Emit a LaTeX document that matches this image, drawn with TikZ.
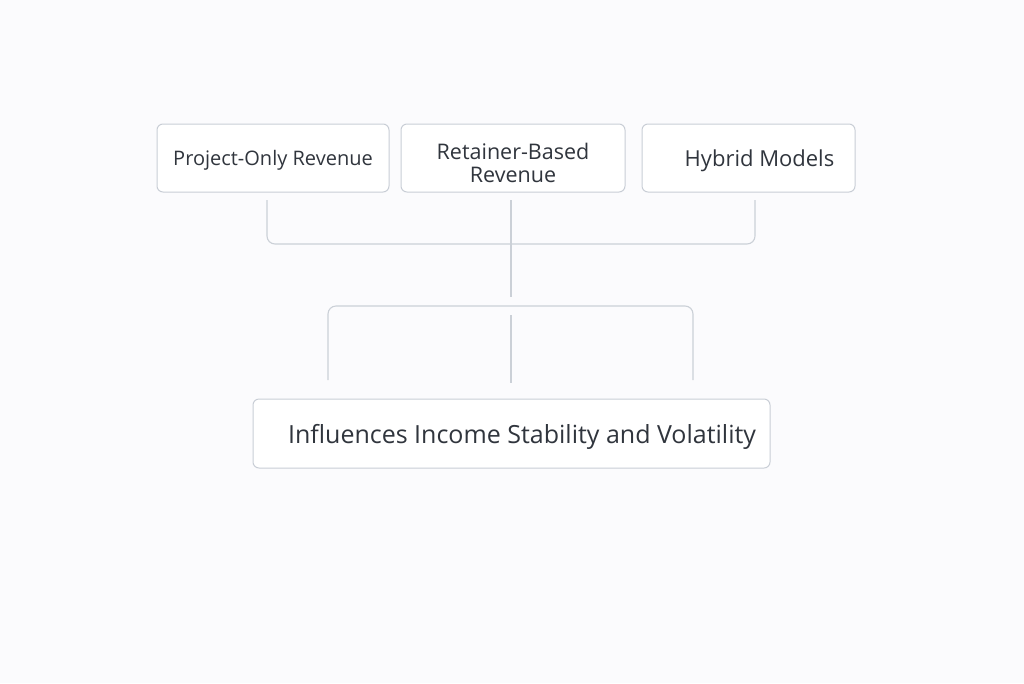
\documentclass[tikz,border=0pt]{standalone}
\usepackage{fontspec}
\setmainfont{Open Sans}
\definecolor{bg}{HTML}{FBFBFD}
\definecolor{boxline}{HTML}{C9CED6}
\definecolor{linkgray}{HTML}{CBD0D7}
\definecolor{ink}{HTML}{30353D}

\begin{document}
\begin{tikzpicture}[x=1pt,y=-1pt,
  box/.style={draw=boxline, fill=white, rounded corners=6pt, line width=1pt,
    minimum height=68pt, inner sep=0pt, align=center, text=ink, text depth=0pt},
  link/.style={draw=linkgray, line width=1.1pt, rounded corners=8pt}]
  \fill[bg] (0,0) rectangle (1024,683);
  \useasboundingbox (0,0) rectangle (1024,683);

  % revenue models
  \node[box, minimum width=232pt, font=\fontsize{20}{23}\selectfont] (proj) at (273,158) {Project-Only Revenue};
  \node[box, minimum width=224pt, text height=49pt, font=\fontsize{21.5}{23}\selectfont] (ret) at (513,158) {Retainer-Based\\Revenue};
  \node[box, minimum width=213pt, font=\fontsize{22}{25}\selectfont] (hyb) at (748.5,158) {\hspace*{22pt}Hybrid Models};

  % outcome
  \node[box, minimum width=517pt, minimum height=69pt, font=\fontsize{25}{28}\selectfont] (out) at (511.5,433.5) {\hspace*{21pt}Influences Income Stability and Volatility};

  % connector ends
  \coordinate (pj) at (267,200);
  \coordinate (rt) at (511,200);
  \coordinate (hb) at (755,200);
  \coordinate (top) at (511,244);
  \coordinate (mid) at (511,297);
  \coordinate (low) at (511,306);
  \coordinate (ol) at (328,380);
  \coordinate (oc) at (511,315);
  \coordinate (ob) at (511,383);
  \coordinate (or) at (693,380);

  \draw[link] (pj) |- (top) -| (hb);
  \draw[link] (rt) -- (mid);
  \draw[link] (ol) |- (low) -| (or);
  \draw[link] (oc) -- (ob);
\end{tikzpicture}
\end{document}
